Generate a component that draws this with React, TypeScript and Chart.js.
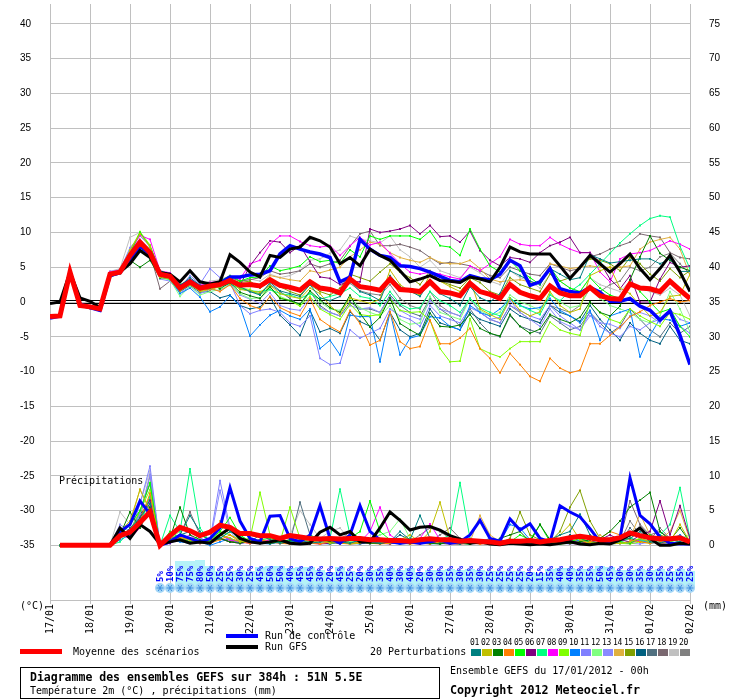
import React, { useEffect, useRef } from "react";
import { Chart, registerables } from "chart.js";
Chart.register(...registerables);

// ---------- axes / labels ----------
const DATES = ["17/01","18/01","19/01","20/01","21/01","22/01","23/01","24/01","25/01","26/01","27/01","28/01","29/01","30/01","31/01","01/02","02/02"];
const TEMP_TICKS = [-35,-30,-25,-20,-15,-10,-5,0,5,10,15,20,25,30,35,40];
const PRECIP_TICKS = [0,5,10,15,20,25,30,35,40,45,50,55,60,65,70,75];
const HOURS_T = Array.from({ length: 65 }, (_, i) => i * 6);
const HOURS_P = HOURS_T.slice(1);
const SNOW_HOURS = HOURS_T.slice(11);

const PERT_COLORS = ["#008080","#c0c000","#008000","#ff8000","#00ff00","#800080","#00ff80","#ff00ff","#80ff00","#0080ff","#8080ff","#80ff80","#8a8aff","#e0b040","#80a000","#006080","#507080","#7a6870","#c0c0c0","#808080"];

// ---------- temperature 2m (°C), every 6h from 17/01 00h ----------
const TEMP_MEAN = [-2.1,-2.0,4.3,-0.5,-0.7,-1.0,4.0,4.3, 6.7,8.6,7.1,4.0,3.7,2.0,2.9,2.0, 2.3,2.5,3.1,2.4,2.5,2.3,3.2,2.4, 2.1,1.7,2.9,2.0,1.8,1.3,3.3,2.2, 2.0,1.7,3.3,1.8,1.7,1.5,2.9,1.5, 1.3,0.9,2.7,1.5,1.1,0.5,2.5,1.4, 0.9,0.5,2.3,1.3,0.9,0.9,2.1,0.9, 0.5,0.4,2.6,2.0,1.9,1.5,3.0,1.7,0.5];
const TEMP_GFS = [-0.2,0.0,4.3,0.6,0.1,-0.8,4.0,4.3, 5.5,7.4,6.4,4.2,4.0,2.9,4.5,2.9, 2.6,2.9,6.8,5.7,4.3,3.6,6.7,6.4, 7.6,7.9,9.3,8.8,7.9,5.5,6.4,5.2, 7.6,6.7,6.0,4.5,2.9,3.3,3.8,3.1, 3.0,2.8,3.6,3.3,2.9,5.0,7.9,7.2, 6.9,6.9,6.9,5.2,3.4,5.0,6.7,5.5, 4.3,5.5,6.9,4.8,3.2,4.8,6.7,4.3,1.5];
const TEMP_CTRL = [-2.3,-2.0,4.3,-0.3,-0.8,-1.2,3.8,4.2, 6.2,8.0,7.0,4.2,3.8,2.2,3.0,2.1, 2.4,2.7,3.6,3.6,3.9,4.0,4.5,6.9, 8.1,7.6,7.2,6.9,6.4,2.9,3.6,9.0, 7.6,6.7,6.4,5.2,5.1,4.8,4.3,3.7, 3.1,2.9,3.8,3.4,3.2,4.0,6.0,5.2, 2.4,2.9,4.8,1.9,1.5,1.3,2.1,1.4, 0.1,0.1,0.5,-0.6,-1.2,-2.6,-1.3,-4.8,-9.0];

const TEMP_P01 = [-2.2,-2.0,4.2,-0.4,-0.6,-0.9,3.9,4.4, 6.5,8.2,6.8,4.2,3.9,2.3,3.5,2.4, 2.0,2.6,3.5,2.2,1.5,1.0,2.8,1.6, 1.2,0.8,2.5,0.6,0.2,0.8,3.0,1.5, 1.0,0.2,3.8,2.2,1.6,0.8,3.0,1.2, 0.5,-0.5,2.2,0.6,0.0,1.2,4.5,3.8, 3.0,2.5,4.8,4.0,3.2,3.5,6.8,6.2, 5.6,5.8,6.0,6.2,6.2,5.5,6.2,4.4,4.4];
const TEMP_P02 = [-2.0,-1.9,4.4,-0.6,-0.8,-1.1,4.2,4.0, 7.5,9.8,8.0,3.6,3.3,1.6,2.5,1.5, 1.8,2.2,3.0,1.8,1.6,1.4,2.4,1.2, 0.8,0.5,2.0,1.2,-0.5,-1.8,0.6,0.2, -0.2,0.4,4.6,2.5,1.5,1.0,4.0,3.0, 2.2,1.5,3.2,-1.0,-1.8,-2.5,0.5,-1.2, -2.0,-1.4,1.5,-0.5,-1.5,-1.0,3.8,4.5, 5.0,2.0,1.2,-0.5,-2.0,-1.5,0.8,1.0,4.0];
const TEMP_P03 = [-2.1,-2.1,4.2,-0.7,-0.9,-1.3,3.6,4.1, 6.0,5.0,6.0,3.5,3.6,1.8,3.2,1.8, 2.6,1.9,2.8,1.4,0.9,0.5,2.2,0.5, 0.2,-0.3,1.6,0.3,-0.8,-1.5,1.0,-1.6, -3.6,-2.2,0.6,-3.1,-4.0,-4.8,-1.6,-3.5, -3.6,-3.3,-1.8,-3.8,-4.5,-4.9,-1.8,-3.5, -4.5,-3.9,-1.8,-2.5,-3.0,-2.2,0.0,-1.5, -2.0,-0.6,3.2,6.5,9.5,7.0,6.0,5.0,4.5];
const TEMP_P04 = [-2.0,-2.0,4.4,-0.5,-0.7,-1.0,4.1,4.5, 6.8,8.5,7.0,3.8,3.5,1.8,2.8,1.6, 2.0,1.5,2.5,0.5,-0.5,-1.0,0.8,-0.8, -1.5,-2.0,0.5,-2.5,-3.5,-4.3,-1.2,-3.1, -6.2,-5.5,-1.4,-5.7,-6.7,-6.4,-2.6,-6.0, -6.0,-5.2,-3.8,-6.7,-8.1,-10.2,-7.4,-9.0, -10.7,-11.4,-8.1,-9.5,-10.2,-9.8,-6.0,-6.0, -4.8,-3.6,-2.1,-1.4,-0.5,0.0,0.5,0.0,0.2];
const TEMP_P05 = [-2.1,-1.9,4.3,-0.4,-0.6,-0.9,4.0,4.6, 7.0,10.0,8.0,4.5,4.0,2.5,3.2,2.3, 2.6,3.0,3.8,3.0,3.5,3.6,5.2,4.5, 4.8,5.2,6.5,5.8,6.0,5.5,7.5,6.5, 9.5,9.0,9.5,9.5,9.5,9.0,10.2,8.1, 7.9,6.7,10.5,7.6,5.2,4.3,6.0,4.5, 3.5,2.5,5.0,3.0,2.0,1.5,3.5,2.0, 1.0,0.5,3.0,1.5,0.0,-1.5,-1.0,-3.5,-5.0];
const TEMP_P06 = [-2.1,-2.0,4.3,-0.6,-0.8,-1.1,4.0,4.2, 6.2,8.0,6.5,3.5,3.5,1.6,2.5,1.8, 1.8,2.3,3.0,2.4,5.2,7.1,8.8,8.6, 7.1,8.1,5.8,3.6,3.4,2.5,3.0,2.9, 10.5,10.0,10.2,10.5,11.0,9.8,11.0,9.4, 9.5,8.6,10.2,7.4,6.0,5.2,6.4,6.2, 5.7,7.1,8.1,8.6,9.3,7.1,7.1,5.7, 3.3,1.9,3.8,0.0,0.0,3.3,5.7,5.0,5.2];
const TEMP_P07 = [-2.2,-2.1,4.1,-0.5,-0.8,-1.2,3.9,4.3, 6.0,7.8,7.5,3.8,3.2,1.5,2.6,1.6, 2.0,2.2,2.6,1.9,1.6,1.5,1.8,1.2, 1.0,0.5,1.2,0.4,0.8,1.2,2.0,0.8, 0.5,-0.5,1.5,-0.3,-1.0,-0.8,1.5,0.2, -0.5,-1.5,0.5,-0.8,-1.5,-2.0,0.6,-0.5, -1.2,-1.8,1.0,0.2,1.5,2.5,4.0,5.5, 7.0,8.5,9.8,11.0,12.0,12.4,12.2,8.0,4.8];
const TEMP_P08 = [-2.0,-1.9,4.4,-0.4,-0.6,-0.9,4.3,4.6, 7.2,9.6,9.0,4.5,4.2,2.3,3.3,2.4, 2.8,3.0,3.6,3.3,5.5,6.0,8.3,9.5, 9.5,8.7,8.1,7.9,8.1,6.7,8.1,9.3, 8.2,8.6,7.0,5.5,4.3,4.0,4.3,4.0, 3.6,3.3,5.2,4.5,5.5,6.5,9.0,8.3, 8.1,8.1,9.3,8.3,7.6,7.1,7.1,4.3, 2.9,6.2,6.9,7.1,7.4,8.1,8.8,8.3,7.6];
const TEMP_P09 = [-2.1,-2.0,4.3,-0.5,-0.7,-1.0,4.1,4.5, 7.4,10.1,8.2,4.3,3.9,2.1,3.0,2.2, 2.2,2.5,3.2,2.0,1.8,1.0,2.2,0.6, 0.2,-0.6,0.8,-1.0,-1.8,-2.5,-0.3,-1.8, -2.0,-1.8,0.5,-1.2,-1.5,-1.4,-2.6,-6.7, -8.6,-8.5,-2.4,-6.7,-7.4,-7.9,-6.7,-5.7, -5.7,-5.7,-2.9,-4.0,-4.5,-4.8,0.0,-1.5, -2.5,-3.0,-1.0,-2.0,-2.8,-3.5,-1.5,-1.8,-2.5];
const TEMP_P10 = [-2.2,-2.1,4.2,-0.6,-0.8,-1.2,3.8,4.1, 6.3,7.9,6.6,3.6,3.4,1.2,2.0,0.7, -1.4,-0.7,0.9,-0.6,-4.9,-3.3,-1.9,-1.2, -2.0,-2.5,-1.0,-6.7,-5.5,-7.6,-1.9,-2.1, -2.1,-8.6,-1.4,-7.6,-5.2,-4.8,-2.1,-2.3, -3.5,-4.0,-0.5,-1.5,-2.0,-1.0,0.5,-0.5, -1.0,-0.8,0.5,-1.2,-2.0,-3.0,-1.2,-5.5, -2.0,-1.5,-1.0,-7.9,-4.8,-2.4,-2.6,-3.5,-3.0];
const TEMP_P11 = [-2.0,-2.0,4.5,-0.4,-0.6,-0.8,4.4,4.6, 7.8,9.5,8.0,4.2,3.8,2.0,3.8,2.6, 4.8,3.5,2.8,-0.5,-1.7,-1.2,-1.0,-1.5, -3.0,-3.5,-2.0,-8.1,-9.0,-8.8,-4.0,-5.2, -4.5,-3.8,-1.0,-2.0,-2.5,-3.5,-0.5,-2.0, -2.5,-3.0,-0.8,-1.5,-2.5,-3.0,-0.5,-1.2, -2.0,-2.5,-0.5,-2.0,-3.0,-4.0,-1.5,-3.5, -4.5,-5.0,-3.5,-4.0,-3.0,-2.5,-1.5,-3.5,-4.5];
const TEMP_P12 = [-2.1,-2.0,4.3,-0.5,-0.7,-1.1,4.0,4.2, 6.6,8.3,7.8,3.4,3.2,0.8,2.3,1.0, 1.5,1.8,2.4,1.2,0.5,0.6,1.8,0.8, 0.2,-0.5,1.4,0.0,-1.0,-1.2,0.5,-0.8, -1.5,-2.0,-0.5,-2.5,-3.2,-3.0,0.8,-1.5, -2.0,-2.5,0.5,-1.2,-2.0,-1.5,1.0,0.0, -0.5,-1.2,1.2,0.0,-0.8,-0.5,2.0,0.5, -0.5,-1.0,-1.5,-2.5,-3.0,-2.0,1.5,-1.0,-4.3];
const TEMP_P13 = [-2.3,-2.1,4.1,-0.7,-0.9,-1.3,3.7,4.0, 7.5,9.0,7.5,3.3,3.0,1.3,2.2,1.2, 1.8,1.6,2.6,1.0,0.4,-0.2,1.3,-0.5, -1.0,-1.2,0.6,-0.8,-1.5,-2.0,-0.5,-1.0, -0.8,-1.5,0.8,-1.2,-2.0,-2.5,0.2,-1.0, -1.5,-2.0,0.5,-1.5,-2.5,-2.2,0.2,-1.5, -2.5,-3.5,-1.0,-2.8,-3.5,-4.0,-2.0,-3.0, -3.2,-3.8,-2.0,-1.5,-2.0,-3.0,-1.0,-2.5,-3.0];
const TEMP_P14 = [-2.0,-2.0,4.4,-0.4,-0.6,-1.0,4.1,4.4, 6.4,8.6,7.2,3.9,3.6,1.9,3.0,2.0, 2.4,2.6,3.0,2.4,2.6,2.5,3.8,3.5, 3.2,3.0,4.5,4.2,4.6,5.0,6.5,7.5, 8.6,8.3,7.1,6.4,6.0,5.7,6.4,5.7, 5.5,5.5,6.0,4.8,3.3,2.9,3.1,3.2, 2.9,2.6,5.5,5.2,4.8,5.0,5.2,5.0, 5.0,5.0,5.2,7.6,8.6,9.0,9.3,7.6,3.8];
const TEMP_P15 = [-2.1,-2.0,4.2,-0.5,-0.7,-1.0,3.9,4.3, 6.9,8.9,7.3,4.1,3.8,2.0,2.9,2.1, 2.3,2.4,3.3,2.8,3.0,2.0,3.0,2.2, 1.5,1.0,2.5,1.5,1.0,2.0,4.0,3.5, 3.0,4.3,5.5,4.3,3.5,2.5,4.5,3.0, 2.5,2.0,3.5,2.8,1.5,1.0,3.5,2.5, 2.0,1.5,4.0,3.0,3.5,5.0,6.2,6.0, 5.5,4.5,6.4,5.5,4.0,3.0,4.8,3.5,4.5];
const TEMP_P16 = [-2.2,-2.1,4.1,-0.6,-0.8,-1.2,3.8,4.2, 6.3,7.6,6.8,3.5,3.3,1.5,2.4,1.4, 1.5,0.6,1.0,-0.5,-1.0,-0.7,0.7,-1.9, -3.3,-4.8,-1.2,-4.3,-3.8,-4.5,-1.4,-2.8, -3.5,-5.5,-1.5,-4.0,-5.0,-4.5,-1.0,-3.0, -3.5,-4.0,-1.5,-2.5,-3.0,-3.5,-1.0,-2.0, -2.5,-3.0,-0.5,-1.5,-2.0,-2.8,-0.5,-2.5, -4.0,-5.5,-3.0,-4.5,-5.5,-6.0,-3.5,-5.5,-6.0];
const TEMP_P17 = [-2.1,-2.0,4.2,-0.5,-0.8,-1.1,3.9,4.2, 6.5,8.0,6.9,3.8,3.6,1.7,2.6,1.7, 2.0,2.2,3.0,2.0,1.5,1.2,2.5,1.5, 0.5,-0.5,1.5,-0.5,-1.5,-2.0,0.0,-1.0, -1.0,-1.5,1.0,-0.5,-1.5,-2.0,0.5,-1.0, -2.0,-3.5,-1.0,-3.0,-4.5,-5.0,-2.0,-3.5, -4.0,-4.5,-2.0,-3.0,-4.0,-3.5,-1.5,-3.0, -4.5,-3.5,-1.0,-2.5,-4.0,-5.0,-3.0,-4.5,-3.5];
const TEMP_P18 = [-2.0,-1.9,4.3,-0.4,-0.6,-1.0,4.0,4.5, 6.8,8.8,7.0,1.9,3.0,1.5,2.6,1.8, 2.3,2.8,3.5,3.0,3.2,3.5,4.5,4.0, 4.2,4.5,5.5,5.0,5.5,6.0,8.0,9.8, 10.2,8.1,8.1,8.3,7.9,7.4,6.4,5.5, 5.7,5.5,5.2,4.5,3.8,3.5,5.0,4.5, 4.0,3.8,5.5,5.0,4.5,4.8,6.5,6.9, 7.6,8.1,8.6,9.8,9.5,9.3,7.1,6.4,6.2];
const TEMP_P19 = [-2.0,-1.9,4.5,-0.3,-0.5,-0.8,4.4,4.8, 9.3,10.0,7.8,4.4,4.0,2.4,3.4,2.5, 3.0,3.2,3.8,3.0,3.3,3.0,4.0,3.5, 3.8,4.5,6.0,6.2,7.0,7.5,9.5,9.0, 8.8,8.5,9.5,7.5,6.5,5.0,6.0,4.5, 4.0,3.5,5.0,4.2,3.0,2.5,4.5,3.5, 3.0,2.0,4.0,3.0,2.0,1.5,3.5,2.5, 2.0,1.5,3.0,2.0,1.5,1.0,2.0,1.0,-2.0];
const TEMP_P20 = [-2.1,-2.0,4.3,-0.5,-0.7,-1.0,4.0,4.3, 6.6,8.4,7.0,4.0,3.7,2.0,2.8,1.9, 2.1,2.3,2.9,2.3,2.3,2.1,2.9,2.2, 1.9,1.5,2.6,1.9,1.8,1.6,2.7,1.6, 1.2,1.0,2.5,0.5,-0.5,-1.0,1.5,-0.5, -1.5,-2.0,0.5,-1.5,-2.5,-3.0,-0.5,-1.5, -2.5,-3.0,-0.5,-1.0,-1.5,-0.5,2.0,1.5, 2.5,3.0,5.0,4.5,5.0,6.5,7.0,5.5,4.0];

// ---------- precipitation (mm / 6h), from 17/01 06h ----------
const PRECIP_MEAN = [0,0,0,0,0,0,1.4,1.9, 3.3,4.8,0,1.4,2.6,2.1,1.4,1.9, 2.9,2.6,1.7,1.7,1.4,1.4,1.0,1.4, 1.2,1.0,0.9,1.0,0.9,1.0,1.0,0.8, 0.8,0.7,0.7,0.6,0.8,0.95,0.8,0.8, 0.6,0.7,0.6,0.5,0.3,0.6,0.6,0.7, 0.5,0.7,0.8,1.1,1.3,1.1,0.8,0.8, 1.1,1.8,1.4,1.1,0.95,0.95,1.1,0.5];
const PRECIP_GFS = [0,0,0,0,0,0,2.5,1.0, 3.0,2.0,0.2,0.5,0.8,0.3,0.5,0.3, 1.5,2.5,1.0,0.5,0.3,0.5,0.8,0.3, 0.2,0.3,1.9,2.6,1.5,2.0,0.5,0.5, 2.5,4.8,3.6,2.2,2.6,2.7,2.2,1.4, 0.9,0.3,0.5,0.2,0.1,0.3,0.2,0.1, 0.2,0.1,0.3,0.5,0.2,0.1,0.3,0.2, 0.8,1.5,2.5,1.0,0.0,0.0,0.3,0.2];
const PRECIP_CTRL = [0,0,0,0,0,0,2.0,3.0, 6.4,4.5,0,0.5,1.5,1.0,0.5,1.0, 2.5,8.3,3.5,1.0,0.5,4.2,4.3,1.0, 0.5,1.5,5.7,1.0,0.3,1.5,5.7,2.0, 0.8,0.5,0.3,0.5,0.3,0.5,0.8,0.3, 0.5,1.5,3.6,1.0,0.6,3.8,2.2,3.1, 1.0,0.5,5.7,4.8,4.1,2.4,0.5,0.3, 1.0,9.7,4.3,3.1,1.2,0.3,0.2,0.2];

const PRECIP_P01 = [0,0,0,0,0,0,1.0,2.5, 4.0,6.0,0,0.8,1.5,4.3,2.0,0.5, 1.0,2.0,1.2,0.5,1.5,0.8,0.3,0.5, 0.8,0.3,0.5,1.0,0.5,0.3,0.8,0.5, 0.3,0.5,2.0,0.8,4.3,1.0,0.5,0.3, 0.2,0.5,0.8,0.3,0.2,0.5,0.3,0.2, 0.5,0.8,1.5,2.0,4.5,1.5,0.5,0.3, 0.8,1.0,2.0,0.5,0.3,0.8,0.5,0.2];
const PRECIP_P02 = [0,0,0,0,0,0,2.0,3.5, 8.0,5.0,0,0.5,1.0,0.8,0.3,0.5, 1.5,1.0,0.5,0.8,0.3,0.5,1.0,0.3, 0.5,0.3,0.8,0.3,0.5,0.2,0.3,0.8, 0.5,0.3,0.8,1.5,0.5,2.0,6.2,1.0, 0.3,0.5,0.8,0.3,0.2,0.3,0.5,0.3, 0.2,0.5,1.5,3.0,0.8,0.3,0.5,0.2, 0.3,0.5,1.0,0.5,0.3,0.5,3.0,0.5];
const PRECIP_P03 = [0,0,0,0,0,0,1.5,4.8, 2.5,5.5,0,1.0,5.5,1.5,0.8,0.5, 1.0,0.5,0.3,0.8,0.5,0.3,0.5,0.8, 0.3,0.5,1.0,0.5,0.3,0.8,0.5,0.3, 0.3,0.5,0.8,0.3,0.5,0.3,0.2,0.5, 0.3,0.2,0.5,0.3,1.0,1.5,2.0,0.5, 3.0,0.8,0.5,0.3,0.5,0.8,1.0,2.0, 3.5,5.5,6.5,7.6,2.0,0.8,2.5,0.5];
const PRECIP_P04 = [0,0,0,0,0,0,1.0,2.0, 3.5,7.5,0,0.5,1.2,0.8,0.5,0.3, 0.8,1.5,0.5,0.3,0.8,0.5,0.3,0.2, 0.5,0.3,0.2,0.5,0.3,0.2,0.5,0.3, 0.2,0.3,0.5,0.2,0.3,0.2,0.5,0.3, 0.2,0.3,0.2,0.3,0.2,0.5,0.3,0.2, 0.3,0.2,0.5,0.3,0.2,0.5,1.0,2.0, 1.5,0.8,0.5,0.3,0.5,1.0,0.5,0.3];
const PRECIP_P05 = [0,0,0,0,0,0,1.5,3.0, 5.0,9.0,0,2.0,1.0,0.5,1.5,0.8, 2.0,4.0,1.5,0.5,0.8,1.0,0.5,0.3, 0.5,1.5,0.8,0.3,0.5,1.0,2.0,6.4, 2.0,0.8,0.5,0.3,0.5,1.0,0.3,0.5, 0.3,0.2,0.5,0.8,0.3,0.5,1.5,0.8, 3.0,0.5,0.3,0.5,1.0,0.5,0.3,0.8, 0.5,0.3,1.0,1.5,0.8,0.5,0.3,0.2];
const PRECIP_P06 = [0,0,0,0,0,0,2.5,1.5, 4.0,6.5,0,0.3,1.0,0.5,0.3,0.8, 1.0,0.5,0.3,0.5,0.8,0.3,0.5,0.2, 0.3,0.5,0.2,0.3,0.5,0.2,0.3,0.5, 0.3,0.2,0.5,0.3,0.2,0.5,0.3,0.2, 0.2,0.3,0.5,0.2,0.3,0.2,0.5,0.3, 0.2,0.3,0.5,0.8,0.3,0.5,0.8,1.5, 0.8,0.5,1.5,2.0,6.4,1.5,5.7,1.0];
const PRECIP_P07 = [0,0,0,0,0,0,0.5,2.0, 3.0,7.0,0,4.3,2.0,11.0,2.5,0.5, 1.0,2.0,1.5,0.5,0.8,0.3,0.5,0.8, 0.5,0.3,0.8,1.0,8.1,1.5,0.5,0.3, 0.5,0.3,0.5,1.0,0.5,0.3,0.8,1.5, 9.0,1.0,0.5,0.3,0.2,0.5,0.3,0.2, 0.5,0.3,0.2,0.5,0.3,0.5,0.8,0.3, 0.5,1.0,0.8,0.5,1.5,3.0,8.3,1.0];
const PRECIP_P08 = [0,0,0,0,0,0,1.5,1.0, 2.5,6.0,0,0.5,0.8,1.5,0.3,0.5, 1.5,0.8,0.5,0.3,0.5,0.8,1.0,0.3, 0.5,0.3,0.2,0.5,0.3,0.8,0.5,2.0, 5.5,1.5,0.5,0.3,1.0,3.1,0.8,0.5, 0.3,0.5,0.2,0.3,0.5,0.3,0.2,0.5, 0.3,0.5,0.8,0.3,0.2,0.5,0.3,0.2, 0.5,0.3,0.8,0.5,0.3,0.5,0.2,0.3];
const PRECIP_P09 = [0,0,0,0,0,0,1.0,2.0, 5.0,8.0,0,1.5,1.0,0.5,0.8,0.5, 2.0,1.5,0.8,1.0,7.6,1.5,0.5,5.5, 1.0,0.5,0.3,0.5,0.8,0.3,0.5,0.8, 0.5,0.3,0.8,1.0,0.5,0.3,0.5,0.8, 0.3,0.5,0.2,0.3,0.5,0.3,0.5,0.2, 0.3,0.5,0.2,0.3,0.5,0.3,0.2,0.5, 0.3,0.2,0.5,0.3,0.8,0.5,1.0,0.3];
const PRECIP_P10 = [0,0,0,0,0,0,0.8,1.5, 3.0,5.5,0,0.8,0.5,0.3,0.5,0.0, 0.5,1.0,0.3,0.5,0.3,0.2,0.5,0.3, 0.2,0.5,0.3,0.2,0.5,0.3,0.2,0.5, 0.3,0.5,0.2,0.3,0.5,0.2,0.3,0.5, 0.3,0.2,0.5,1.0,0.5,3.0,2.5,0.8, 0.5,0.3,0.5,0.3,0.8,0.5,0.3,0.2, 0.3,0.5,0.8,0.3,0.5,0.8,1.5,0.5];
const PRECIP_P11 = [0,0,0,0,0,0,2.0,1.5, 6.0,11.4,0,0.5,1.5,1.0,0.5,0.8, 9.3,2.5,1.0,0.5,0.8,0.3,0.5,0.8, 0.3,0.5,0.8,0.3,0.5,0.8,0.3,0.5, 0.2,0.5,0.3,0.5,0.2,0.3,0.5,0.3, 0.5,0.3,0.2,0.5,0.3,0.2,0.5,0.3, 0.2,0.3,0.5,0.2,0.5,0.3,0.2,0.5, 0.3,0.5,0.8,0.3,0.5,0.3,0.5,0.3];
const PRECIP_P12 = [0,0,0,0,0,0,1.0,2.5, 3.0,6.5,0,1.0,2.0,0.8,0.5,1.0, 1.5,1.0,0.5,0.8,0.3,0.5,0.8,0.3, 0.5,0.3,0.8,0.5,0.3,0.5,0.8,1.0, 1.5,2.0,3.8,1.0,0.5,0.3,0.5,0.8, 0.5,0.3,0.5,0.2,0.3,0.5,0.3,0.5, 0.3,0.5,0.2,0.5,0.3,0.2,0.5,0.3, 0.5,0.3,0.8,1.0,0.5,0.8,1.0,1.5];
const PRECIP_P13 = [0,0,0,0,0,0,3.0,2.0, 4.5,10.2,0,0.3,0.8,0.5,1.0,0.5, 7.9,2.0,0.5,0.8,0.3,0.5,0.3,0.5, 0.8,0.3,0.5,0.2,0.5,0.3,0.5,0.2, 0.5,0.3,0.2,0.5,0.3,0.5,0.2,0.3, 0.5,0.2,0.3,0.5,0.2,0.3,0.5,0.3, 0.2,0.5,0.3,0.2,0.3,0.5,0.2,0.3, 0.5,0.3,0.2,0.5,0.3,0.2,0.5,0.3];
const PRECIP_P14 = [0,0,0,0,0,0,1.5,3.0, 8.1,5.0,0,0.8,1.5,0.5,0.8,0.3, 3.5,1.5,0.8,0.5,0.3,0.8,1.0,0.5, 0.3,0.5,0.8,0.3,0.5,0.8,0.3,0.5, 0.3,0.5,0.8,0.5,0.3,0.5,0.3,0.5, 0.8,0.5,4.3,1.5,0.5,0.3,0.5,0.3, 0.5,0.3,0.2,0.5,0.8,0.3,1.5,0.5, 0.8,1.0,4.5,1.5,0.8,2.0,5.0,0.8];
const PRECIP_P15 = [0,0,0,0,0,0,1.0,2.0, 4.0,7.0,0,0.5,0.8,1.0,0.5,0.3, 1.0,0.5,0.8,0.3,0.5,0.8,0.3,0.5, 0.8,0.3,0.5,0.2,0.5,0.3,0.8,0.5, 0.3,0.5,0.2,0.5,0.8,0.3,0.5,0.8, 0.5,0.3,0.8,0.5,0.3,1.0,4.8,1.5, 0.8,0.5,2.0,5.5,7.9,3.5,1.0,0.5, 0.8,1.0,0.5,0.8,1.5,1.0,0.5,0.3];
const PRECIP_P16 = [0,0,0,0,0,0,1.5,2.0, 4.5,6.0,0,0.8,1.5,2.0,1.0,0.5, 1.0,0.5,0.8,0.3,0.5,0.3,0.8,0.5, 0.3,0.5,0.2,0.5,0.3,0.5,0.2,0.5, 0.3,0.5,1.5,0.8,0.3,0.5,0.3,0.2, 0.5,0.3,0.5,0.2,0.3,0.5,0.8,0.3, 0.5,0.8,0.3,1.5,1.0,0.5,0.3,0.5, 0.3,0.5,0.8,0.5,0.3,0.5,0.3,0.2];
const PRECIP_P17 = [0,0,0,0,0,0,2.0,1.5, 5.0,8.8,0,0.5,1.0,0.8,0.5,1.0, 1.5,0.8,0.5,1.0,0.3,0.5,0.8,0.5, 6.2,1.5,0.5,0.3,0.8,0.5,0.3,0.5, 0.3,0.5,0.3,0.2,0.5,0.3,0.2,0.5, 0.3,0.2,0.5,0.3,0.2,0.5,0.3,0.2, 0.5,0.3,0.2,0.5,0.3,0.5,0.8,0.3, 0.5,2.5,1.0,0.5,0.8,0.5,0.3,0.2];
const PRECIP_P18 = [0,0,0,0,0,0,1.0,2.0, 3.5,6.5,0,1.0,1.5,4.8,1.5,0.8, 1.0,0.5,0.8,0.5,0.3,0.5,0.8,0.3, 0.5,0.3,0.8,0.5,0.3,0.5,0.8,0.3, 0.5,0.3,0.5,0.8,0.3,0.5,1.5,2.5, 1.0,0.5,0.3,0.5,0.8,0.3,0.5,0.3, 0.2,0.5,0.3,0.8,0.5,0.3,0.5,0.8, 1.0,6.4,3.0,1.5,2.0,1.0,0.8,0.5];
const PRECIP_P19 = [0,0,0,0,0,0,4.8,3.0, 6.0,10.7,0,0.5,1.0,0.8,0.5,0.3, 1.0,0.8,0.5,1.0,0.5,0.3,0.5,1.5, 5.0,3.0,1.0,2.0,2.5,0.8,0.5,0.3, 0.5,0.3,0.8,0.5,0.3,0.2,0.5,0.3, 0.2,0.5,0.3,0.2,0.5,0.3,0.2,0.5, 0.3,0.5,0.2,0.3,0.5,0.3,0.2,0.5, 0.3,0.5,3.0,1.0,0.5,0.3,0.5,0.2];
const PRECIP_P20 = [0,0,0,0,0,0,2.0,1.5, 4.0,10.0,0,0.8,1.5,1.0,0.5,0.8, 1.5,1.0,0.5,0.3,0.8,0.5,0.3,0.5, 0.8,0.5,0.3,0.5,0.8,2.0,1.0,0.5, 0.3,0.5,0.2,0.5,1.5,2.5,2.0,1.0, 0.5,0.3,0.5,0.2,0.3,0.5,0.3,0.2, 0.5,0.3,0.8,0.5,0.3,0.5,0.2,0.3, 0.5,3.5,1.5,0.8,2.5,1.0,0.5,0.3];

// ---------- snow probability (%), every 6h from 19/01 18h ----------
const SNOW_PCT = [5,10,75,75,80,50,25,25,30,25, 45,50,50,40,45,45,30,20,45,25, 20,30,35,40,30,40,20,30,30,35, 30,35,30,25,25,25,25,20,15,35, 40,40,35,35,50,45,30,30,35,30, 35,25,35,25];

const TEMP_PERTS = [TEMP_P01,TEMP_P02,TEMP_P03,TEMP_P04,TEMP_P05,TEMP_P06,TEMP_P07,TEMP_P08,TEMP_P09,TEMP_P10,TEMP_P11,TEMP_P12,TEMP_P13,TEMP_P14,TEMP_P15,TEMP_P16,TEMP_P17,TEMP_P18,TEMP_P19,TEMP_P20];
const PRECIP_PERTS = [PRECIP_P01,PRECIP_P02,PRECIP_P03,PRECIP_P04,PRECIP_P05,PRECIP_P06,PRECIP_P07,PRECIP_P08,PRECIP_P09,PRECIP_P10,PRECIP_P11,PRECIP_P12,PRECIP_P13,PRECIP_P14,PRECIP_P15,PRECIP_P16,PRECIP_P17,PRECIP_P18,PRECIP_P19,PRECIP_P20];

const MONO = '"DejaVu Sans Mono", monospace';

function series(vals: number[], hours: number[], color: string, width: number, axis: string, order: number, markers: boolean) {
  return {
    type: "line",
    data: vals.map((v, i) => ({ x: hours[i], y: v })),
    borderColor: color,
    backgroundColor: color,
    borderWidth: width,
    pointRadius: markers ? 1.3 : 0,
    pointStyle: "rect",
    pointBorderWidth: 0,
    pointBackgroundColor: color,
    tension: 0,
    fill: false,
    yAxisID: axis,
    order,
  };
}

const decorPlugin = {
  id: "decor",
  beforeDatasetsDraw(chart: any) {
    const { ctx, chartArea, scales } = chart;
    const y0 = Math.round(scales.y.getPixelForValue(0));
    ctx.save();
    ctx.strokeStyle = "#000";
    ctx.lineWidth = 1;
    [y0 - 1.5, y0 + 1.5].forEach((yy) => {
      ctx.beginPath();
      ctx.moveTo(chartArea.left, yy);
      ctx.lineTo(chartArea.right, yy);
      ctx.stroke();
    });
    ctx.restore();
  },
  afterDraw(chart: any) {
    const { ctx, chartArea, scales } = chart;
    const x = scales.x;
    const base = chartArea.bottom - 12;
    ctx.save();
    // cyan bars behind the probability labels
    SNOW_HOURS.forEach((h, i) => {
      const p = SNOW_PCT[i];
      if (p < 15) return;
      const px = x.getPixelForValue(h);
      const hgt = 12 + p * 0.2;
      ctx.fillStyle = "#b4f2f8";
      ctx.fillRect(Math.round(px) - 5, Math.round(base - hgt), 10, Math.round(hgt));
    });
    // snowflakes
    SNOW_HOURS.forEach((h) => {
      const px = x.getPixelForValue(h);
      ctx.fillStyle = "#a4d6f6";
      ctx.beginPath();
      ctx.arc(px, base, 5, 0, Math.PI * 2);
      ctx.fill();
      ctx.strokeStyle = "#3d8fe0";
      ctx.lineWidth = 1;
      for (let k = 0; k < 3; k++) {
        const a = (k * Math.PI) / 3;
        ctx.beginPath();
        ctx.moveTo(px - Math.cos(a) * 3.5, base - Math.sin(a) * 3.5);
        ctx.lineTo(px + Math.cos(a) * 3.5, base + Math.sin(a) * 3.5);
        ctx.stroke();
      }
    });
    // percentages
    ctx.fillStyle = "#0000ff";
    ctx.font = "bold 9px " + MONO;
    ctx.textAlign = "left";
    ctx.textBaseline = "middle";
    SNOW_HOURS.forEach((h, i) => {
      const px = x.getPixelForValue(h);
      ctx.save();
      ctx.translate(px + 0.5, base - 6);
      ctx.rotate(-Math.PI / 2);
      ctx.fillText(SNOW_PCT[i] + "%", 0, 0);
      ctx.restore();
    });
    ctx.restore();
  },
};

export default function App() {
  const ref = useRef<HTMLCanvasElement>(null);
  useEffect(() => {
    const datasets: any[] = [];
    datasets.push(series(TEMP_MEAN, HOURS_T, "#ff0000", 5, "y", 0, false));
    datasets.push(series(PRECIP_MEAN, HOURS_P, "#ff0000", 5, "y2", 0, false));
    datasets.push(series(TEMP_GFS, HOURS_T, "#000000", 3, "y", 1, false));
    datasets.push(series(PRECIP_GFS, HOURS_P, "#000000", 3, "y2", 1, false));
    datasets.push(series(TEMP_CTRL, HOURS_T, "#0000ff", 3.5, "y", 2, false));
    datasets.push(series(PRECIP_CTRL, HOURS_P, "#0000ff", 3, "y2", 2, false));
    TEMP_PERTS.forEach((d, i) => datasets.push(series(d, HOURS_T, PERT_COLORS[i], 1, "y", 3, true)));
    PRECIP_PERTS.forEach((d, i) => datasets.push(series(d, HOURS_P, PERT_COLORS[i], 1, "y2", 3, true)));

    const chart = new Chart(ref.current as HTMLCanvasElement, {
      type: "line",
      data: { datasets },
      plugins: [decorPlugin],
      options: {
        responsive: false,
        animation: false,
        events: [],
        layout: { padding: { left: 20, right: 0, top: 0, bottom: 0 } },
        plugins: { legend: { display: false }, tooltip: { enabled: false } },
        scales: {
          x: {
            type: "linear",
            min: 0,
            max: 384,
            afterBuildTicks: (s: any) => { s.ticks = DATES.map((_, i) => ({ value: i * 24 })); },
            afterFit: (s: any) => { s.height = 100; s.paddingLeft = 0; s.paddingRight = 0; },
            ticks: {
              autoSkip: false,
              minRotation: 90,
              maxRotation: 90,
              padding: 0,
              color: "#000",
              font: { family: MONO, size: 10 },
              callback: (v: any, i: number) => DATES[i],
            },
            grid: { color: "#c0c0c0", tickColor: "#c0c0c0", tickLength: 4, drawTicks: true },
            border: { display: true, color: "#c0c0c0" },
          },
          y: {
            position: "left",
            min: -300 / 7,
            max: 300 / 7,
            afterBuildTicks: (s: any) => { s.ticks = TEMP_TICKS.map((v) => ({ value: v })); },
            afterFit: (s: any) => { s.width = 30; s.paddingTop = 0; s.paddingBottom = 0; },
            ticks: {
              crossAlign: "far",
              padding: 0,
              color: "#000",
              font: { family: '"Liberation Sans", Arial, sans-serif', size: 10 },
              callback: (v: any) => String(v),
            },
            grid: { color: "#c0c0c0", drawTicks: false },
            border: { display: true, color: "#c0c0c0" },
          },
          y2: {
            position: "right",
            min: -300 / 7 + 35,
            max: 300 / 7 + 35,
            afterBuildTicks: (s: any) => { s.ticks = PRECIP_TICKS.map((v) => ({ value: v })); },
            afterFit: (s: any) => { s.width = 50; s.paddingTop = 0; s.paddingBottom = 0; },
            ticks: {
              padding: 19,
              color: "#000",
              font: { family: '"Liberation Sans", Arial, sans-serif', size: 10 },
              callback: (v: any) => String(v),
            },
            grid: { drawOnChartArea: false, drawTicks: false },
            border: { display: true, color: "#c0c0c0" },
          },
        },
      } as any,
    } as any);
    return () => chart.destroy();
  }, []);

  const txt = (extra: any) => ({
    position: "absolute" as const,
    fontFamily: MONO,
    fontSize: 10,
    lineHeight: "12px",
    whiteSpace: "pre" as const,
    color: "#000",
    ...extra,
  });

  return (
    <div style={{ position: "absolute", left: 0, top: 0, width: 740, height: 700, background: "#fff", overflow: "hidden" }}>
      <canvas ref={ref} width={740} height={700} style={{ position: "absolute", left: 0, top: 0, width: 740, height: 700 }} />
      <div style={txt({ left: 59, top: 475 })}>Précipitations</div>
      <div style={txt({ left: 20, top: 600 })}>(°C)</div>
      <div style={txt({ left: 703, top: 600 })}>(mm)</div>

      <div style={{ position: "absolute", left: 20, top: 649, width: 42, height: 5, background: "#ff0000" }} />
      <div style={txt({ left: 73, top: 646 })}>Moyenne des scénarios</div>
      <div style={{ position: "absolute", left: 226, top: 634, width: 32, height: 4, background: "#0000ff" }} />
      <div style={txt({ left: 265, top: 630 })}>Run de contrôle</div>
      <div style={{ position: "absolute", left: 226, top: 645, width: 32, height: 4, background: "#000000" }} />
      <div style={txt({ left: 265, top: 641 })}>Run GFS</div>
      <div style={txt({ left: 370, top: 646 })}>20 Perturbations</div>
      {PERT_COLORS.map((c, i) => (
        <React.Fragment key={i}>
          <div style={txt({ left: 470 + i * 11, top: 638, fontSize: 8, lineHeight: "10px", letterSpacing: "-0.3px" })}>{String(i + 1).padStart(2, "0")}</div>
          <div style={{ position: "absolute", left: 471 + i * 11, top: 649, width: 10, height: 7, background: c }} />
        </React.Fragment>
      ))}

      <div style={{ position: "absolute", left: 20, top: 667, width: 418, height: 30, border: "1px solid #000" }} />
      <div style={txt({ left: 30, top: 671, fontWeight: "bold", fontSize: 11.5 })}>Diagramme des ensembles GEFS sur 384h : 51N 5.5E</div>
      <div style={txt({ left: 30, top: 685 })}>Température 2m (°C) , précipitations (mm)</div>
      <div style={txt({ left: 450, top: 665 })}>Ensemble GEFS du 17/01/2012 - 00h</div>
      <div style={txt({ left: 450, top: 684, fontWeight: "bold", fontSize: 11.7 })}>Copyright 2012 Meteociel.fr</div>
    </div>
  );
}
